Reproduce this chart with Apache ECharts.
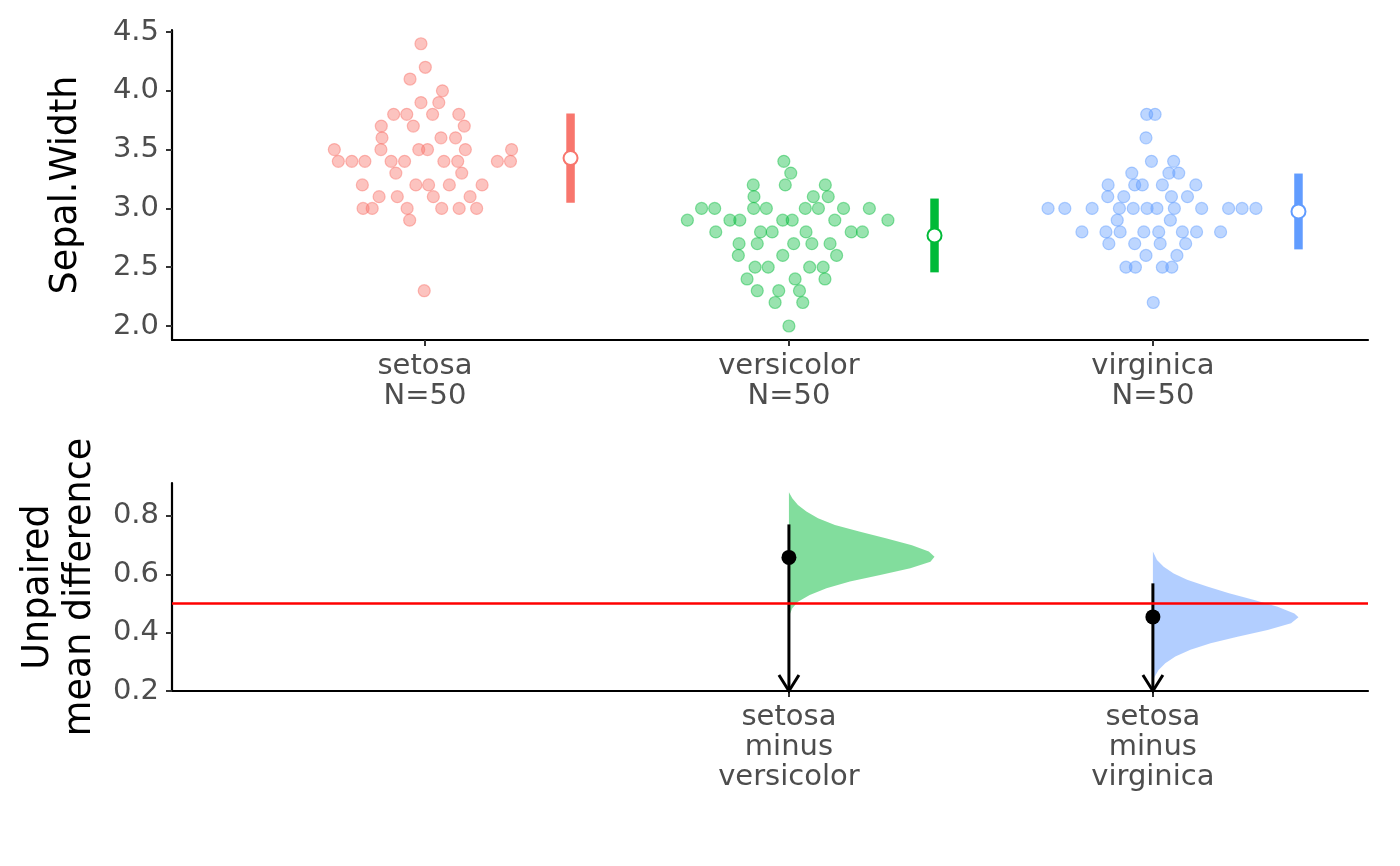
<!DOCTYPE html>
<html>
<head>
<meta charset="utf-8">
<script src="https://cdn.jsdelivr.net/npm/echarts@6/dist/echarts.min.js"></script>
<style>
html, body { margin: 0; padding: 0; background: #fff; }
#main { width: 1400px; height: 866px; }
</style>
</head>
<body>
<div id="main"></div>
<script>
var species = ['setosa', 'versicolor', 'virginica'];

// Sepal.Width per species, with the swarm's horizontal offsets (category units)
var setosaY = [4.4, 4.2, 4.1, 4.0, 3.9, 3.9, 3.8, 3.8, 3.8, 3.8, 3.7, 3.7, 3.7, 3.6, 3.6, 3.6,
    3.5, 3.5, 3.5, 3.5, 3.5, 3.5, 3.4, 3.4, 3.4, 3.4, 3.4, 3.4, 3.4, 3.4, 3.4, 3.3, 3.3,
    3.2, 3.2, 3.2, 3.2, 3.2, 3.1, 3.1, 3.1, 3.1, 3.0, 3.0, 3.0, 3.0, 3.0, 3.0, 2.9, 2.3];
var setosaDx = [-0.011, 0.001, -0.041, 0.048, -0.011, 0.038, -0.086, -0.050, 0.021, 0.093,
    -0.120, -0.032, 0.108, -0.118, 0.044, 0.084, -0.249, -0.121, -0.017, 0.007, 0.111, 0.238,
    -0.238, -0.201, -0.165, -0.093, -0.056, 0.052, 0.090, 0.199, 0.235, -0.080, 0.101,
    -0.172, -0.025, 0.010, 0.067, 0.157, -0.126, -0.076, 0.023, 0.124,
    -0.170, -0.145, -0.049, 0.046, 0.094, 0.142, -0.042, -0.002];

var versicolorY = [3.4, 3.3, 3.2, 3.2, 3.2, 3.1, 3.1, 3.1, 3.0, 3.0, 3.0, 3.0, 3.0, 3.0, 3.0, 3.0,
    2.9, 2.9, 2.9, 2.9, 2.9, 2.9, 2.9, 2.8, 2.8, 2.8, 2.8, 2.8, 2.8, 2.7, 2.7, 2.7, 2.7, 2.7,
    2.6, 2.6, 2.6, 2.5, 2.5, 2.5, 2.5, 2.4, 2.4, 2.4, 2.3, 2.3, 2.3, 2.2, 2.2, 2.0];
var versicolorDx = [-0.014, 0.005, -0.098, -0.010, 0.100, -0.096, 0.067, 0.108,
    -0.240, -0.204, -0.097, -0.062, 0.045, 0.081, 0.150, 0.221,
    -0.279, -0.162, -0.135, -0.017, 0.009, 0.126, 0.272, -0.201, -0.078, -0.046, 0.047, 0.171, 0.202,
    -0.137, -0.087, 0.013, 0.063, 0.113, -0.139, -0.017, 0.131, -0.093, -0.057, 0.057, 0.094,
    -0.115, 0.017, 0.099, -0.087, -0.028, 0.029, -0.038, 0.038, 0];

var virginicaY = [3.8, 3.8, 3.6, 3.4, 3.4, 3.3, 3.3, 3.3, 3.2, 3.2, 3.2, 3.2, 3.2, 3.1, 3.1, 3.1, 3.1,
    3.0, 3.0, 3.0, 3.0, 3.0, 3.0, 3.0, 3.0, 3.0, 3.0, 3.0, 3.0, 2.9, 2.9,
    2.8, 2.8, 2.8, 2.8, 2.8, 2.8, 2.8, 2.8, 2.7, 2.7, 2.7, 2.7, 2.6, 2.6, 2.5, 2.5, 2.5, 2.5, 2.2];
var virginicaDx = [-0.017, 0.006, -0.019, -0.004, 0.057, -0.058, 0.044, 0.071,
    -0.123, -0.050, -0.029, 0.026, 0.118, -0.124, -0.080, 0.051, 0.095,
    -0.288, -0.242, -0.167, -0.092, -0.054, -0.016, 0.011, 0.059, 0.134, 0.208, 0.245, 0.283,
    -0.098, 0.048, -0.195, -0.129, -0.090, -0.025, 0.016, 0.081, 0.120, 0.186,
    -0.121, -0.050, 0.020, 0.090, -0.019, 0.066, -0.074, -0.048, 0.026, 0.052, 0.001];

var topTicks = [2.0, 2.5, 3.0, 3.5, 4.0, 4.5];

// effect sizes: setosa minus versicolor, setosa minus virginica
var diffPairs = [[0, 1], [0, 2]];
var diffCiHigh = [0.771, 0.569];
var bottomTicks = [0.2, 0.4, 0.6, 0.8];
var refLine = 0.5;

// bootstrap density outlines (value, relative half-width)
var densSvsVeY = [0.881, 0.861, 0.838, 0.815, 0.792, 0.769, 0.746, 0.723, 0.700, 0.678, 0.660,
    0.643, 0.621, 0.598, 0.575, 0.552, 0.529, 0.506, 0.484, 0.461, 0.449];
var densSvsVeW = [0, 0.023, 0.062, 0.12, 0.20, 0.316, 0.489, 0.672, 0.845, 0.961, 1,
    0.972, 0.834, 0.627, 0.419, 0.258, 0.143, 0.062, 0.023, 0.005, 0];
var densSvsViY = [0.678, 0.649, 0.626, 0.603, 0.581, 0.558, 0.535, 0.512, 0.489, 0.466, 0.453,
    0.432, 0.409, 0.386, 0.364, 0.341, 0.318, 0.295, 0.272, 0.249, 0.232];
var densSvsViW = [0, 0.028, 0.074, 0.143, 0.235, 0.373, 0.523, 0.696, 0.857, 0.972, 1,
    0.949, 0.788, 0.581, 0.396, 0.258, 0.154, 0.085, 0.039, 0.012, 0];

// styles
var font = 'DejaVu Sans';
var lineColors = ['#F8766D', '#00BA38', '#619CFF'];
var dotFills = ['rgba(248,118,109,0.55)', 'rgba(0,186,56,0.5)', 'rgba(97,156,255,0.52)'];
var dotBorders = ['rgba(248,118,109,0.6)', 'rgba(0,186,56,0.55)', 'rgba(97,156,255,0.6)'];
var violinFills = ['rgba(0,186,56,0.49)', 'rgba(97,156,255,0.49)'];
var barOffset = 0.4;
var violinWidth = 0.4;

var groupY = [setosaY, versicolorY, virginicaY];
var groupDx = [setosaDx, versicolorDx, virginicaDx];
var densY = [densSvsVeY, densSvsViY];
var densW = [densSvsVeW, densSvsViW];

function mean(a) {
    return a.reduce(function (s, v) { return s + v; }, 0) / a.length;
}
function sd(a) {
    var m = mean(a);
    return Math.sqrt(a.reduce(function (s, v) { return s + (v - m) * (v - m); }, 0) / (a.length - 1));
}

var myChart = echarts.init(document.getElementById('main'));

var axisLine = { show: true, onZero: false, lineStyle: { color: '#000', width: 2.2 } };
var axisTick = function (vals) {
    return { show: true, length: 6, customValues: vals, lineStyle: { color: '#333', width: 2 } };
};
var labelText = { color: '#4D4D4D', fontSize: 29, fontFamily: font };

var series = [];

groupY.forEach(function (ys, g) {
    series.push({
        type: 'scatter',
        xAxisIndex: 0,
        yAxisIndex: 0,
        symbolSize: 12,
        silent: true,
        itemStyle: { color: dotFills[g], borderColor: dotBorders[g], borderWidth: 1.2 },
        data: ys.map(function (y, i) { return [g + 1 + groupDx[g][i], y]; })
    });
});

// mean +/- sd bars
series.push({
    type: 'custom',
    xAxisIndex: 0,
    yAxisIndex: 0,
    silent: true,
    z: 3,
    encode: { x: 0, y: [1, 2] },
    data: groupY.map(function (ys, g) {
        var m = mean(ys), s = sd(ys);
        return [g + 1 + barOffset, m - s, m + s, g];
    }),
    renderItem: function (params, api) {
        var lo = api.coord([api.value(0), api.value(1)]);
        var hi = api.coord([api.value(0), api.value(2)]);
        return {
            type: 'line',
            shape: { x1: lo[0], y1: lo[1], x2: hi[0], y2: hi[1] },
            style: { stroke: lineColors[api.value(3)], lineWidth: 8.5 }
        };
    }
});

series.push({
    type: 'scatter',
    xAxisIndex: 0,
    yAxisIndex: 0,
    symbolSize: 14,
    silent: true,
    z: 4,
    data: groupY.map(function (ys, g) {
        return {
            value: [g + 1 + barOffset, mean(ys)],
            itemStyle: { color: '#fff', borderColor: lineColors[g], borderWidth: 2, opacity: 1 }
        };
    })
});

// bootstrap distributions
series.push({
    type: 'custom',
    xAxisIndex: 1,
    yAxisIndex: 1,
    silent: true,
    z: 2,
    encode: { x: 0, y: 1 },
    data: diffPairs.map(function (p, k) { return [p[1] + 1, densY[k][10], k]; }),
    renderItem: function (params, api) {
        var x = api.value(0), k = api.value(2);
        var pts = densY[k].map(function (y, i) {
            return api.coord([x + densW[k][i] * violinWidth, y]);
        });
        return {
            type: 'polygon',
            shape: { points: pts },
            style: { fill: violinFills[k], stroke: null }
        };
    }
});

// CI line with arrow down to the axis floor
series.push({
    type: 'custom',
    xAxisIndex: 1,
    yAxisIndex: 1,
    silent: true,
    z: 4,
    encode: { x: 0, y: [1, 2] },
    data: diffPairs.map(function (p, k) { return [p[1] + 1, diffCiHigh[k], bottomTicks[0]]; }),
    renderItem: function (params, api) {
        var top = api.coord([api.value(0), api.value(1)]);
        var tip = api.coord([api.value(0), api.value(2)]);
        var st = { stroke: '#000', lineWidth: 3, fill: null };
        return {
            type: 'group',
            children: [{
                type: 'line',
                shape: { x1: top[0], y1: top[1], x2: tip[0], y2: tip[1] },
                style: st
            }, {
                type: 'polyline',
                shape: { points: [[tip[0] - 10, tip[1] - 16], [tip[0], tip[1]], [tip[0] + 10, tip[1] - 16]] },
                style: st
            }]
        };
    }
});

series.push({
    type: 'scatter',
    xAxisIndex: 1,
    yAxisIndex: 1,
    symbolSize: 15,
    silent: true,
    z: 5,
    itemStyle: { color: '#000', opacity: 1 },
    data: diffPairs.map(function (p) {
        return [p[1] + 1, mean(groupY[p[0]]) - mean(groupY[p[1]])];
    }),
    markLine: {
        silent: true,
        symbol: 'none',
        label: { show: false },
        lineStyle: { color: '#FF0000', width: 2.5, type: 'solid', opacity: 1 },
        data: [{ yAxis: refLine }]
    }
});

option = {
    animation: false,
    backgroundColor: '#fff',
    grid: [
        { left: 172, top: 30, width: 1196, height: 310 },
        { left: 172, top: 483, width: 1196, height: 208 }
    ],
    xAxis: [{
        type: 'value',
        gridIndex: 0,
        min: 0.305,
        max: 3.591,
        axisLine: axisLine,
        axisTick: axisTick([1, 2, 3]),
        splitLine: { show: false },
        axisLabel: Object.assign({
            customValues: [1, 2, 3],
            margin: 11,
            lineHeight: 30,
            formatter: function (v) {
                var g = Math.round(v) - 1;
                return species[g] + '\nN=' + groupY[g].length;
            }
        }, labelText)
    }, {
        type: 'value',
        gridIndex: 1,
        min: 0.305,
        max: 3.591,
        axisLine: axisLine,
        axisTick: axisTick([2, 3]),
        splitLine: { show: false },
        axisLabel: Object.assign({
            customValues: diffPairs.map(function (p) { return p[1] + 1; }),
            margin: 11,
            lineHeight: 30,
            formatter: function (v) {
                var g = Math.round(v) - 1;
                return species[0] + '\nminus\n' + species[g];
            }
        }, labelText)
    }],
    yAxis: [{
        type: 'value',
        gridIndex: 0,
        min: 1.881,
        max: 4.517,
        name: 'Sepal.Width',
        nameLocation: 'middle',
        nameGap: 87,
        nameTextStyle: { fontSize: 36.5, color: '#000', fontFamily: font },
        axisLine: axisLine,
        axisTick: axisTick(topTicks),
        splitLine: { show: false },
        axisLabel: Object.assign({
            customValues: topTicks,
            margin: 13,
            formatter: function (v) { return v.toFixed(1); }
        }, labelText)
    }, {
        type: 'value',
        gridIndex: 1,
        min: 0.2,
        max: 0.913,
        name: 'Unpaired\nmean difference',
        nameLocation: 'middle',
        nameGap: 62,
        nameTextStyle: { fontSize: 36.5, lineHeight: 42, color: '#000', fontFamily: font },
        axisLine: axisLine,
        axisTick: axisTick(bottomTicks),
        splitLine: { show: false },
        axisLabel: Object.assign({
            customValues: bottomTicks,
            margin: 13,
            formatter: function (v) { return v.toFixed(1); }
        }, labelText)
    }],
    series: series
};

myChart.setOption(option);
</script>
</body>
</html>
